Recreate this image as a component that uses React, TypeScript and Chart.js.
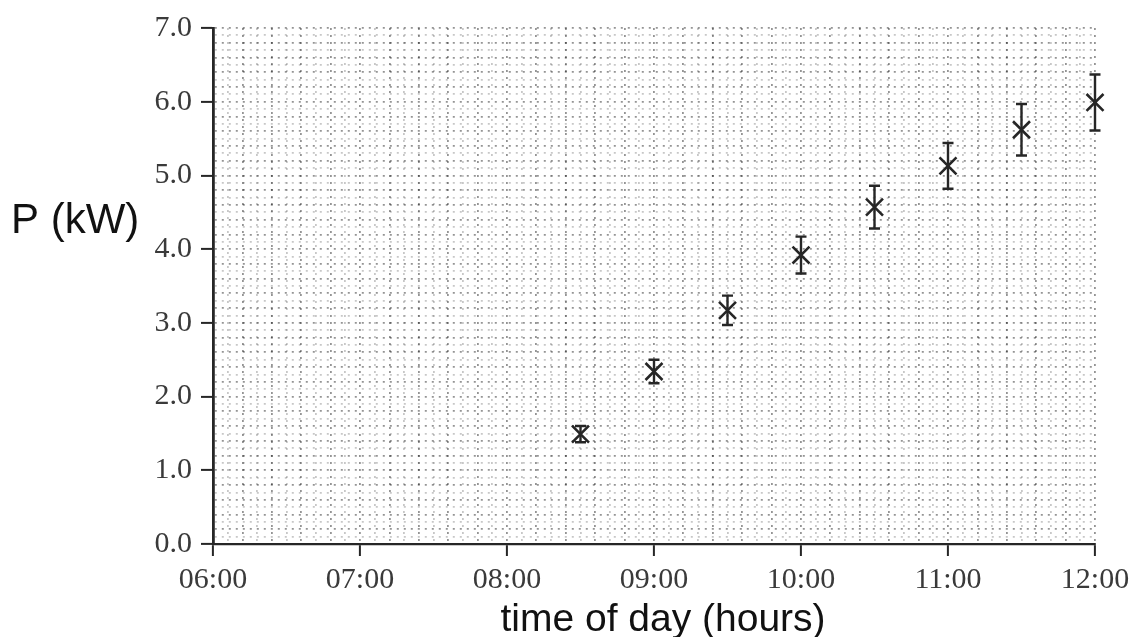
import React, { useEffect, useRef } from "react";
import { Chart, registerables } from "chart.js";

Chart.register(...registerables);

// Data (time in hours of day, power in kW)
const times: number[] = [8.5, 9, 9.5, 10, 10.5, 11, 11.5, 12];
const power: number[] = [1.49, 2.34, 3.17, 3.92, 4.57, 5.13, 5.62, 5.99];
const errors: number[] = [0.11, 0.16, 0.2, 0.25, 0.29, 0.31, 0.35, 0.38];

const xMin = 6;
const xMax = 12;
const yMin = 0;
const yMax = 7;
const gridStep = 0.1;

const xTitle = "time of day (hours)";
const yTitle = "P (kW)";

const isInt = (v: number) => Math.abs(v - Math.round(v)) < 1e-6;
const isEven10 = (v: number) => Math.round(v * 10) % 2 === 0;

const buildTicks = (min: number, max: number, step: number) => {
  const out: { value: number }[] = [];
  const n = Math.round((max - min) / step);
  for (let i = 0; i <= n; i++) out.push({ value: +(min + i * step).toFixed(4) });
  return out;
};

const INK = "#262626";

const errorBarPlugin = {
  id: "errorBars",
  beforeDatasetsDraw(chart: any) {
    const { ctx, scales } = chart;
    const xs = scales.x;
    const ys = scales.y;
    ctx.save();
    ctx.strokeStyle = INK;
    ctx.lineWidth = 2.4;
    for (let i = 0; i < times.length; i++) {
      const px = xs.getPixelForValue(times[i]);
      const top = ys.getPixelForValue(power[i] + errors[i]);
      const bot = ys.getPixelForValue(power[i] - errors[i]);
      ctx.beginPath();
      ctx.moveTo(px, top);
      ctx.lineTo(px, bot);
      ctx.moveTo(px - 5.5, top);
      ctx.lineTo(px + 5.5, top);
      ctx.moveTo(px - 5.5, bot);
      ctx.lineTo(px + 5.5, bot);
      ctx.stroke();
    }
    ctx.restore();
  },
};

const titlesPlugin = {
  id: "axisTitles",
  afterDraw(chart: any) {
    const { ctx } = chart;
    ctx.save();
    ctx.fillStyle = "#111";
    ctx.textBaseline = "alphabetic";
    ctx.font = '42px "Liberation Sans", Arial, sans-serif';
    ctx.textAlign = "left";
    ctx.fillText(yTitle, 11, 233);
    ctx.font = '39px "Liberation Sans", Arial, sans-serif';
    ctx.textAlign = "center";
    ctx.fillText(xTitle, 663, 631);
    ctx.restore();
  },
};

export default function App() {
  const canvasRef = useRef<HTMLCanvasElement | null>(null);

  useEffect(() => {
    if (!canvasRef.current) return;
    const tickFont = { family: '"Liberation Serif", "Times New Roman", serif', size: 30 };
    const gridColor = (ctx: any) =>
      isEven10(ctx.tick.value) ? "rgba(0,0,0,0.42)" : "rgba(0,0,0,0.22)";
    const tickColor = (ctx: any) => (isInt(ctx.tick.value) ? INK : "rgba(0,0,0,0)");
    const chart = new Chart(canvasRef.current, {
      type: "scatter",
      data: {
        datasets: [
          {
            data: times.map((t, i) => ({ x: t, y: power[i] })),
            pointStyle: "crossRot",
            pointRadius: 12,
            pointHoverRadius: 12,
            borderWidth: 2.6,
            borderColor: INK,
            backgroundColor: INK,
            clip: false as any,
          },
        ],
      },
      options: {
        animation: false,
        responsive: true,
        maintainAspectRatio: false,
        layout: { padding: { left: 0, right: 37, top: 28, bottom: 0 } },
        plugins: { legend: { display: false }, tooltip: { enabled: false } },
        scales: {
          x: {
            type: "linear",
            min: xMin,
            max: xMax,
            afterBuildTicks: (scale: any) => {
              scale.ticks = buildTicks(xMin, xMax, gridStep);
            },
            afterFit: (scale: any) => {
              scale.height = 93;
              scale.paddingLeft = 0;
              scale.paddingRight = 0;
            },
            ticks: {
              autoSkip: false,
              maxRotation: 0,
              padding: 6,
              color: "#3a3a3a",
              font: tickFont,
              callback: (v: any) => {
                const n = Number(v);
                if (!isInt(n)) return "";
                return String(Math.round(n)).padStart(2, "0") + ":00";
              },
            },
            grid: {
              color: gridColor,
              lineWidth: 1.8,
              tickLength: 12,
              tickWidth: 2,
              tickColor,
            },
            border: { display: true, color: INK, width: 2.2, dash: [2, 5] },
          },
          y: {
            type: "linear",
            min: yMin,
            max: yMax,
            afterBuildTicks: (scale: any) => {
              scale.ticks = buildTicks(yMin, yMax, gridStep);
            },
            afterFit: (scale: any) => {
              scale.width = 213;
              scale.paddingTop = 0;
              scale.paddingBottom = 0;
            },
            ticks: {
              autoSkip: false,
              padding: 9,
              color: "#3a3a3a",
              font: tickFont,
              callback: (v: any) => {
                const n = Number(v);
                return isInt(n) ? n.toFixed(1) : "";
              },
            },
            grid: {
              color: gridColor,
              lineWidth: 1.8,
              tickLength: 12,
              tickWidth: 2,
              tickColor,
            },
            border: { display: true, color: INK, width: 2.8, dash: [2, 5] },
          },
        },
      },
      plugins: [errorBarPlugin, titlesPlugin],
    });
    return () => chart.destroy();
  }, []);

  return (
    <div style={{ position: "absolute", left: 0, top: 0, width: 1132, height: 637, background: "#fff" }}>
      <canvas ref={canvasRef} />
    </div>
  );
}
